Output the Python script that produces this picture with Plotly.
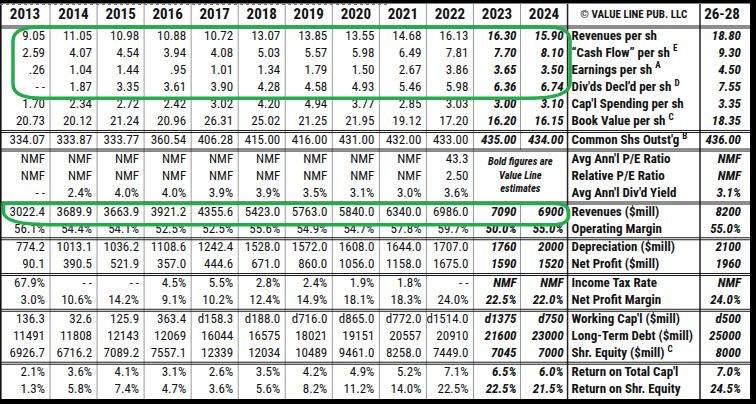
import plotly.graph_objects as go

# ---------------- data ----------------
years = ["2013", "2014", "2015", "2016", "2017", "2018",
         "2019", "2020", "2021", "2022", "2023", "2024"]
estimate_years = ["2023", "2024"]
proj_header = "26-28"
publisher = "© VALUE LINE PUB. LLC"
estimate_note = "Bold figures are<br>Value Line<br>estimates"

row_labels = [
    "Revenues per sh",
    "“Cash Flow” per sh <sup>E</sup>",
    "Earnings per sh <sup>A</sup>",
    "Div'ds Decl'd per sh <sup>D</sup>",
    "Cap'l Spending per sh",
    "Book Value per sh <sup>C</sup>",
    "Common Shs Outst'g <sup>B</sup>",
    "Avg Ann'l P/E Ratio",
    "Relative P/E Ratio",
    "Avg Ann'l Div'd Yield",
    "Revenues ($mill)",
    "Operating Margin",
    "Depreciation ($mill)",
    "Net Profit ($mill)",
    "Income Tax Rate",
    "Net Profit Margin",
    "Working Cap'l ($mill)",
    "Long-Term Debt ($mill)",
    "Shr. Equity ($mill) <sup>C</sup>",
    "Return on Total Cap'l",
    "Return on Shr. Equity",
]
group_sizes = [6, 1, 3, 2, 2, 2, 3, 2]

v2013 = ["9.05", "2.59", ".26", "- -", "1.70", "20.73", "334.07", "NMF", "NMF", "- -",
         "3022.4", "56.1%", "774.2", "90.1", "67.9%", "3.0%", "136.3", "11491", "6926.7", "2.1%", "1.3%"]
v2014 = ["11.05", "4.07", "1.04", "1.87", "2.34", "20.12", "333.87", "NMF", "NMF", "2.4%",
         "3689.9", "54.4%", "1013.1", "390.5", "- -", "10.6%", "32.6", "11808", "6716.2", "3.6%", "5.8%"]
v2015 = ["10.98", "4.54", "1.44", "3.35", "2.72", "21.24", "333.77", "NMF", "NMF", "4.0%",
         "3663.9", "54.1%", "1036.2", "521.9", "- -", "14.2%", "125.9", "12143", "7089.2", "4.1%", "7.4%"]
v2016 = ["10.88", "3.94", ".95", "3.61", "2.42", "20.96", "360.54", "NMF", "NMF", "4.0%",
         "3921.2", "52.5%", "1108.6", "357.0", "4.5%", "9.1%", "363.4", "12069", "7557.1", "3.1%", "4.7%"]
v2017 = ["10.72", "4.08", "1.01", "3.90", "3.02", "26.31", "406.28", "NMF", "NMF", "3.9%",
         "4355.6", "52.5%", "1242.4", "444.6", "5.5%", "10.2%", "d158.3", "16044", "12339", "2.6%", "3.6%"]
v2018 = ["13.07", "5.03", "1.34", "4.28", "4.20", "25.02", "415.00", "NMF", "NMF", "3.9%",
         "5423.0", "55.6%", "1528.0", "671.0", "2.8%", "12.4%", "d188.0", "16575", "12034", "3.5%", "5.6%"]
v2019 = ["13.85", "5.57", "1.79", "4.58", "4.94", "21.25", "416.00", "NMF", "NMF", "3.5%",
         "5763.0", "54.9%", "1572.0", "860.0", "2.4%", "14.9%", "d716.0", "18021", "10489", "4.2%", "8.2%"]
v2020 = ["13.55", "5.98", "1.50", "4.93", "3.77", "21.95", "431.00", "NMF", "NMF", "3.1%",
         "5840.0", "54.7%", "1608.0", "1056.0", "1.9%", "18.1%", "d865.0", "19151", "9461.0", "4.9%", "11.2%"]
v2021 = ["14.68", "6.49", "2.67", "5.46", "2.85", "19.12", "432.00", "NMF", "NMF", "3.0%",
         "6340.0", "57.8%", "1644.0", "1158.0", "1.8%", "18.3%", "d772.0", "20557", "8258.0", "5.2%", "14.0%"]
v2022 = ["16.13", "7.81", "3.86", "5.98", "3.03", "17.20", "433.00", "43.3", "2.50", "3.6%",
         "6986.0", "59.7%", "1707.0", "1675.0", "- -", "24.0%", "d1514.0", "20910", "7449.0", "7.1%", "22.5%"]
v2023 = ["16.30", "7.70", "3.65", "6.36", "3.00", "16.20", "435.00", "", "", "",
         "7090", "50.0%", "1760", "1590", "NMF", "22.5%", "d1375", "21600", "7045", "6.5%", "22.5%"]
v2024 = ["15.90", "8.10", "3.50", "6.74", "3.10", "16.15", "434.00", "", "", "",
         "6900", "55.0%", "2000", "1520", "NMF", "22.0%", "d750", "23000", "7000", "6.0%", "21.5%"]
v2628 = ["18.80", "9.30", "4.50", "7.55", "3.35", "18.35", "436.00", "NMF", "NMF", "3.1%",
         "8200", "55.0%", "2100", "1960", "NMF", "24.0%", "d500", "25000", "8000", "7.0%", "24.5%"]

year_values = [v2013, v2014, v2015, v2016, v2017, v2018,
               v2019, v2020, v2021, v2022, v2023, v2024]

# ---------------- layout geometry ----------------
W, H = 756, 404
FONT = "Liberation Sans Narrow, Arial Narrow, Roboto Condensed, DejaVu Sans Condensed, sans-serif"
INK = "#111111"
GREEN = "#20ad4a"

first_w, year_w = 50.0, 47.05
edges = [0.0, first_w]
for _ in years[1:]:
    edges.append(edges[-1] + year_w)
label_left = edges[-1]
proj_left, proj_right = 700.0, 750.0

header_y = 15.0
top, pitch, gap = 27.0, 17.18, 1.4
row_y, seps = [], [top]
y = top
for n in group_sizes:
    y += gap / 2
    for _ in range(n):
        row_y.append(y + pitch / 2)
        y += pitch
    y += gap / 2
    seps.append(y)
bottom = seps[-1]

fig = go.Figure()


def text_trace(xpos, values, position, size, weight="normal", style="normal"):
    pts = [(yy, v) for yy, v in zip(row_y, values) if v != ""]
    fig.add_trace(go.Scatter(
        x=[xpos] * len(pts), y=[p[0] for p in pts], text=[p[1] for p in pts],
        mode="text", textposition=position, hoverinfo="skip", showlegend=False,
        textfont=dict(family=FONT, size=size, color=INK, weight=weight, style=style)))


# year columns
for i, (yr, vals) in enumerate(zip(years, year_values)):
    est = yr in estimate_years
    text_trace(edges[i + 1] - (4 if est else 5), vals, "middle left", 13,
               "bold" if est else "normal", "italic" if est else "normal")

# projection column
text_trace(proj_right - 9, v2628, "middle left", 13, "bold", "italic")

# row labels
text_trace(label_left + 4, row_labels, "middle right", 13, "bold")

# header
centers = [(edges[i] + edges[i + 1]) / 2 for i in range(len(years))]
fig.add_trace(go.Scatter(
    x=centers + [proj_left + (proj_right - proj_left) / 2 - 3],
    y=[header_y] * (len(years) + 1),
    text=years + [proj_header], mode="text", textposition="middle center",
    hoverinfo="skip", showlegend=False,
    textfont=dict(family=FONT, size=15, color=INK, weight="bold")))
fig.add_trace(go.Scatter(
    x=[(label_left + proj_left) / 2], y=[header_y], text=[publisher], mode="text",
    textposition="middle center", hoverinfo="skip", showlegend=False,
    textfont=dict(family=FONT, size=11, color=INK, weight="bold")))

# estimates note across 2023-2024 in the P/E group
pe_rows = row_y[7:10]
fig.add_annotation(x=(edges[10] + edges[12]) / 2, y=pe_rows[1] - 2,
                   text="<b><i>" + estimate_note + "</i></b>",
                   showarrow=False, xref="x", yref="y",
                   font=dict(family=FONT, size=10.5, color=INK))

shapes = []
# vertical grid lines between years
for i in range(1, len(years)):
    x = edges[i]
    if years[i] == "2024":
        shapes.append(dict(type="line", x0=x, x1=x, y0=4, y1=seps[2], line=dict(color="#9a9a9a", width=1)))
        shapes.append(dict(type="line", x0=x, x1=x, y0=seps[3], y1=bottom, line=dict(color="#9a9a9a", width=1)))
    else:
        shapes.append(dict(type="line", x0=x, x1=x, y0=4, y1=bottom, line=dict(color="#9a9a9a", width=1)))
for x in (label_left, proj_left):
    shapes.append(dict(type="line", x0=x, x1=x, y0=4, y1=bottom, line=dict(color="#222", width=1.5)))
shapes.append(dict(type="line", x0=0.8, x1=0.8, y0=0, y1=H, line=dict(color="#111", width=1.6)))

# horizontal double separators
for s in seps[:-1]:
    for d in (-1.0, 1.0):
        shapes.append(dict(type="line", x0=0, x1=proj_right, y0=s + d, y1=s + d,
                           line=dict(color="#1a1a1a", width=1)))

# black frame bands
shapes.append(dict(type="rect", x0=0, x1=W, y0=0, y1=3.5, fillcolor="#000", line=dict(width=0)))
shapes.append(dict(type="line", x0=0, x1=390, y0=4.5, y1=4.5, line=dict(color="#777", width=1, dash="dot")))
shapes.append(dict(type="rect", x0=proj_right, x1=W, y0=0, y1=H, fillcolor="#000", line=dict(width=0)))
shapes.append(dict(type="rect", x0=0, x1=W, y0=bottom, y1=H, fillcolor="#000", line=dict(width=0)))

# green highlight outlines
b1_top, b1_bot = seps[0], row_y[3] + 10.5
b1_l, b1_r = 13, label_left + 2.5
shapes.append(dict(type="path", line=dict(color=GREEN, width=3.5),
    path=(f"M 40,{b1_top} L 548,{b1_top} Q {b1_r},{b1_top} {b1_r},{b1_top+14} "
          f"L {b1_r},{b1_bot-15} Q {b1_r},{b1_bot} 528,{b1_bot} L 42,{b1_bot} "
          f"Q {b1_l},{b1_bot} {b1_l},{b1_bot-14} L {b1_l},{b1_top+14} Q {b1_l},{b1_top} 40,{b1_top} Z")))
b2_top, b2_bot = seps[3] + 0.5, row_y[10] + 12.5
b2_l, b2_r = 3.5, label_left + 1
shapes.append(dict(type="path", line=dict(color=GREEN, width=3.5),
    path=(f"M {b2_l},{b2_top} L 555,{b2_top} Q {b2_r},{b2_top} {b2_r},{b2_top+9} "
          f"L {b2_r},{b2_bot-9} Q {b2_r},{b2_bot} 552,{b2_bot} L 52,{b2_bot} "
          f"Q {b2_l},{b2_bot} {b2_l},{b2_bot-13} Z")))

fig.update_layout(
    width=W, height=H, margin=dict(l=0, r=0, t=0, b=0),
    paper_bgcolor="white", plot_bgcolor="white",
    shapes=shapes, hovermode=False,
    xaxis=dict(range=[0, W], visible=False, fixedrange=True),
    yaxis=dict(range=[H, 0], visible=False, fixedrange=True),
)

fig.write_html("out.html", config={"displayModeBar": False, "staticPlot": True},
               post_script="document.body.style.margin='0';document.body.style.overflow='hidden';")
